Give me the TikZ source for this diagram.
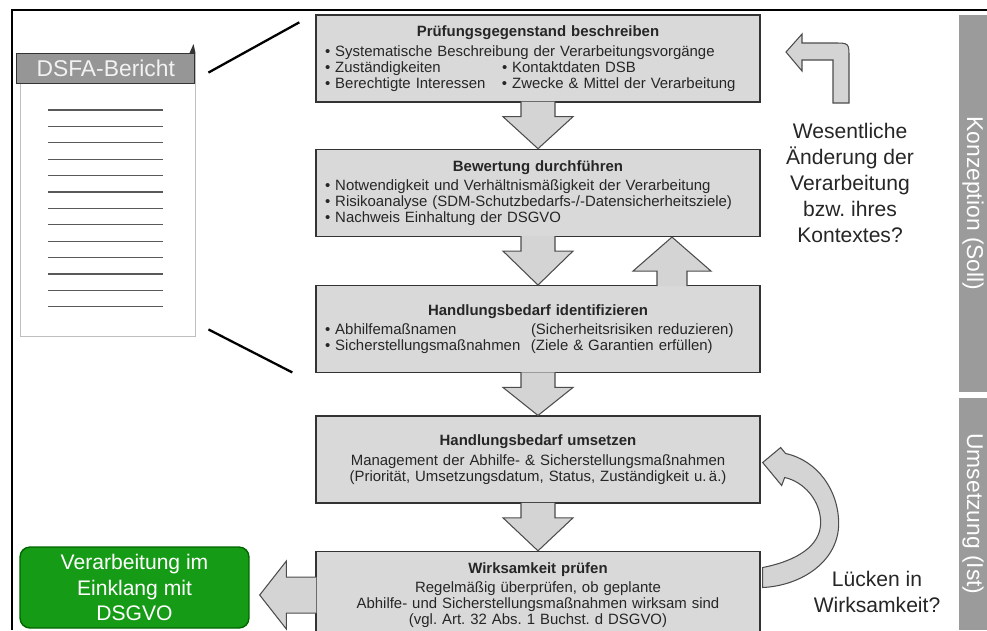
\documentclass[tikz,border=0pt]{standalone}
\usepackage{fontspec}
\setmainfont{Liberation Sans}
\usepackage{tikz}
\usetikzlibrary{positioning}
\usepackage{xcolor}
\frenchspacing
\definecolor{stagegray}{RGB}{217,217,217}
\definecolor{arrowgray}{RGB}{212,212,212}
\definecolor{phasegray}{RGB}{155,155,155}
\definecolor{headgray}{RGB}{150,150,150}
\definecolor{okgreen}{RGB}{22,155,22}
\tikzstyle{stage} = [rectangle, minimum height=1.74cm, text width=8.52cm, inner xsep=0.18cm, align=left, draw=black!80, fill=stagegray, line width=0.8pt, text=black!85, font=\fontsize{8.5}{9.07}\selectfont]
\tikzstyle{blockarrow} = [draw=black!70, fill=arrowgray, line width=0.6pt, line join=miter]
\tikzstyle{phase} = [rectangle, fill=phasegray, text=white, rotate=-90, minimum height=0.56cm, inner sep=0pt, font=\fontsize{13}{15}\selectfont]
\tikzstyle{question} = [align=center, text=black!85, font=\fontsize{12}{14.7}\selectfont]
\tikzstyle{result} = [rectangle, rounded corners=0.2cm, minimum width=4.58cm, minimum height=1.62cm, inner sep=1pt, align=center, draw=black!60!green, fill=okgreen, text=white, line width=0.8pt, font=\fontsize{12}{14.7}\selectfont]
\tikzstyle{docpage} = [rectangle, minimum width=3.5cm, minimum height=5.66cm, draw=gray!50, fill=white, line width=0.5pt]
\tikzstyle{dochead} = [rectangle, minimum width=3.56cm, minimum height=0.6cm, inner sep=0pt, draw=black!80, fill=headgray, text=gray!10, line width=0.8pt, font=\fontsize{13}{15}\selectfont]
\tikzstyle{docline} = [line width=0.6pt, color=black!65]
\tikzstyle{zoomline} = [line width=1.3pt, color=black]

\begin{document}
\begin{tikzpicture}[x=0.02cm, y=-0.02cm]
\useasboundingbox (0,0) rectangle (987,630);

% Frame
\draw[line width=1.1pt] (12,630) -- (12,10) -- (987,10);

% Phases
\node (konzeption) [phase, minimum width=7.54cm] at (973,203.5) {Konzeption (Soll)};
\node (umsetzung) [phase, minimum width=4.64cm] at (973,514) {Umsetzung (Ist)};

% Report
\node (bericht) [docpage] at (107.5,194.5) {};
\node (berichtkopf) [dochead, anchor=north east] at (bericht.north east) {DSFA-Bericht};
\fill[black!80] (189.5,53) -- (193.5,44) -- (195.5,53) -- cycle;
\foreach \i in {0,...,12}
  \draw[docline] (48,110+16.4*\i) -- (163,110+16.4*\i);

% Stages
\node (pruefung) [stage] at (538,58.5) {\makebox[8.52cm]{\textbf{Prüfungsgegenstand beschreiben}}\\[2pt]
• Systematische Beschreibung der Verarbeitungsvorgänge\\
\makebox[3.54cm][l]{• Zuständigkeiten}• Kontaktdaten DSB\\
\makebox[3.54cm][l]{• Berechtigte Interessen}• Zwecke \& Mittel der Verarbeitung};

\node (bewertung) [stage, below=0.92cm of pruefung] {\makebox[8.52cm]{\textbf{Bewertung durchführen}}\\[2pt]
• Notwendigkeit und Verhältnismäßigkeit der Verarbeitung\\
• Risikoanalyse (SDM-Schutzbedarfs-/-Datensicherheitsziele)\\
• Nachweis Einhaltung der DSGVO};

\node (handlung) [stage, below=0.96cm of bewertung] {\makebox[8.52cm]{\textbf{Handlungsbedarf identifizieren}}\\[2pt]
\makebox[4.12cm][l]{• Abhilfemaßnamen}(Sicherheitsrisiken reduzieren)\\
\makebox[4.12cm][l]{• Sicherstellungsmaßnahmen}(Ziele \& Garantien erfüllen)};

\node (umsetzen) [stage, align=center, below=0.84cm of handlung] {\textbf{Handlungsbedarf umsetzen}\\[2pt]
Management der Abhilfe- \& Sicherstellungsmaßnahmen\\
(Priorität, Umsetzungsdatum, Status, Zuständigkeit u.\,ä.)};

\node (wirksam) [stage, align=center, below=0.94cm of umsetzen] {\textbf{Wirksamkeit prüfen}\\[2pt]
Regelmäßig überprüfen, ob geplante\\
Abhilfe- und Sicherstellungsmaßnahmen wirksam sind\\
(vgl. Art. 32 Abs. 1 Buchst. d DSGVO)};

% Result
\node (einklang) [result] at (134.5,587.5) {Verarbeitung im\\Einklang mit\\DSGVO};

% Questions
\node (aenderung) [question] at (850,183) {Wesentliche\\Änderung der\\Verarbeitung\\bzw. ihres\\Kontextes?};
\node (luecken) [question] at (877,592) {Lücken in\\Wirksamkeit?};

% Arrows
\foreach \a/\b in {pruefung/bewertung, bewertung/handlung, handlung/umsetzen, umsetzen/wirksam}
  \draw[blockarrow] ([shift={(-17,-1)}]\a.south) -- ++(0,15) -- ++(-18,0) -- (\b.north) -- ([shift={(35,14)}]\a.south) -- ++(-18,0) -- ([shift={(17,-1)}]\a.south);
\draw[blockarrow] ([shift={(119,1)}]handlung.north) -- ++(0,-15) -- ++(-24,0) -- ([xshift=2.68cm]bewertung.south) -- ([shift={(173,-14)}]handlung.north) -- ++(-24,0) -- ([shift={(149,1)}]handlung.north);
\draw[blockarrow] ([shift={(1,-18)}]wirksam.west) -- ++(-30,0) -- ++(0,-16) -- ([xshift=0.2cm]einklang.east |- wirksam.west) -- ([shift={(-29,34)}]wirksam.west) -- ++(0,-16) -- ([shift={(1,18)}]wirksam.west);
\draw[blockarrow] ([shift={(2,-27.5)}]wirksam.east) .. controls +(35,-7) and +(0,23) .. ++(58,-45) .. controls +(0,-22) and +(19,4) .. ++(-36,-45) -- ++(-3,8) -- ++(-19,-23) -- ++(18,-15) -- ++(5,6) .. controls +(32,7) and +(0,-33) .. ++(53,70) .. controls +(0,37) and +(40,-2) .. ++(-76,64) -- cycle;
\draw[blockarrow] (833,103) -- (833,60) -- (802,60) -- (802,71) -- (786,52) -- (802,34) -- (802,43) -- (834,43) .. controls (849,43) .. (849,58) -- (849,103) -- cycle;

% Zoom lines
\draw[zoomline] ([shift={(13,20)}]berichtkopf.north east) -- ([shift={(-16,8)}]pruefung.north west);
\draw[zoomline] ([shift={(13,-7)}]bericht.south east) -- ([shift={(-23,-1)}]handlung.south west);
\end{tikzpicture}
\end{document}
